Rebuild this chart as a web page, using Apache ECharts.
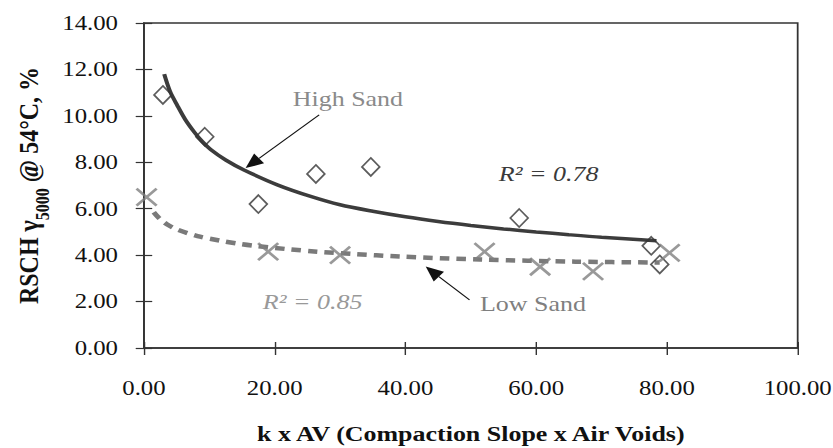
<!DOCTYPE html>
<html>
<head>
<meta charset="utf-8">
<script src="https://cdn.jsdelivr.net/npm/echarts@6/dist/echarts.min.js"></script>
<style>
html,body{margin:0;padding:0;background:#fff;overflow:hidden;}
#wrap{width:833px;height:448px;overflow:hidden;}
#chart{width:706px;height:448px;transform:scaleX(1.18);transform-origin:0 0;}
</style>
</head>
<body>
<div id="wrap"><div id="chart"></div></div>
<script>
// ---- data ----
const highSandX = [2.9, 9.3, 17.5, 26.3, 34.7, 57.4, 77.6, 78.9];
const highSandY = [10.9, 9.1, 6.2, 7.5, 7.8, 5.6, 4.4, 3.6];
const lowSandX = [0.4, 19.0, 30.0, 52.1, 60.6, 68.7, 80.4];
const lowSandY = [6.5, 4.15, 4.0, 4.15, 3.5, 3.3, 4.1];
const highTrendX = [3.1, 4.0, 5.1, 6.3, 7.7, 8.9, 10.2, 12.5, 15.3, 20.4, 25.5, 30.0, 35.0, 40.0, 45.0, 50.0, 55.0, 60.0, 65.0, 70.0, 78.4];
const highTrendY = [11.8, 11.05, 10.45, 9.85, 9.3, 8.9, 8.55, 8.1, 7.67, 7.03, 6.53, 6.17, 5.89, 5.65, 5.45, 5.28, 5.13, 5.0, 4.88, 4.77, 4.62];
const lowTrendX = [1.5, 2.3, 3.5, 5.1, 8.2, 11.7, 14.3, 16.8, 21.9, 26.5, 32.0, 39.1, 51.4, 66.0, 78.9];
const lowTrendY = [5.85, 5.6, 5.33, 5.1, 4.82, 4.62, 4.5, 4.41, 4.26, 4.15, 4.05, 3.94, 3.81, 3.72, 3.68];
const xTicks = {min: 0, max: 100, interval: 20};
const yTicks = {min: 0, max: 14, interval: 2};
const xTitle = 'k x AV (Compaction Slope x Air Voids)';
const highLabel = 'High Sand';
const lowLabel = 'Low Sand';
const highR2 = 'R² = 0.78';
const lowR2 = 'R² = 0.85';

const FONT = 'Liberation Serif, Times New Roman, serif';
const zip = (xs, ys) => xs.map((x, i) => [x, ys[i]]);

const chart = echarts.init(document.getElementById('chart'), null, {renderer: 'svg'});

const baseX = {
  type: 'value', min: xTicks.min, max: xTicks.max, interval: xTicks.interval,
  position: 'bottom', splitLine: {show: false}
};
const baseY = {
  type: 'value', min: yTicks.min, max: yTicks.max, interval: yTicks.interval,
  position: 'left', splitLine: {show: false}
};

chart.setOption({
  animation: false,
  backgroundColor: '#fff',
  grid: {
    left: 122, right: 30, top: 23, bottom: 100,
    show: true, borderColor: '#333', borderWidth: 1.5,
    backgroundColor: 'transparent',
    containLabel: false, outerBoundsMode: 'none'
  },
  xAxis: [
    Object.assign({}, baseX, {
      axisLine: {show: true, onZero: false, lineStyle: {color: '#333', width: 1.5}},
      axisTick: {show: true, inside: false, length: 7, lineStyle: {color: '#333', width: 1.2}},
      axisLabel: {
        color: '#111', fontFamily: FONT, fontSize: 21, margin: 30,
        formatter: v => v.toFixed(2)
      },
      name: xTitle, nameLocation: 'middle', nameGap: 75, nameMoveOverlap: false,
      nameTextStyle: {color: '#111', fontFamily: FONT, fontSize: 22, fontWeight: 'bold'}
    }),
    Object.assign({}, baseX, {
      axisLine: {show: false},
      axisTick: {show: true, inside: true, length: 6, lineStyle: {color: '#333', width: 1.2}},
      axisLabel: {show: false}
    })
  ],
  yAxis: [
    Object.assign({}, baseY, {
      axisLine: {show: true, onZero: false, lineStyle: {color: '#333', width: 1.5}},
      axisTick: {show: true, inside: false, length: 7, lineStyle: {color: '#333', width: 1.2}},
      axisLabel: {
        color: '#111', fontFamily: FONT, fontSize: 21, margin: 22,
        formatter: v => v.toFixed(2)
      },
      name: '{a|RSCH γ}{s|5000}{a| @ 54°C, %}',
      nameLocation: 'middle', nameGap: 78, nameRotate: 90, nameMoveOverlap: false,
      nameTextStyle: {
        color: '#111',
        rich: {
          a: {fontFamily: FONT, fontSize: 24, fontWeight: 'bold', color: '#111', lineHeight: 24, verticalAlign: 'top'},
          s: {fontFamily: FONT, fontSize: 16, fontWeight: 'bold', color: '#111', lineHeight: 32, verticalAlign: 'bottom'}
        }
      }
    }),
    Object.assign({}, baseY, {
      axisLine: {show: false},
      axisTick: {show: true, inside: true, length: 7, lineStyle: {color: '#333', width: 1.2}},
      axisLabel: {show: false}
    })
  ],
  series: [
    {
      name: 'High Sand trend', type: 'line', xAxisIndex: 0, yAxisIndex: 0,
      data: zip(highTrendX, highTrendY), showSymbol: false, smooth: 0.3,
      lineStyle: {color: '#3c3c3c', width: 3.5}, z: 2, silent: true
    },
    {
      name: 'Low Sand trend', type: 'line', xAxisIndex: 0, yAxisIndex: 0,
      data: zip(lowTrendX, lowTrendY), showSymbol: false, smooth: 0.3,
      lineStyle: {color: '#7a7a7a', width: 4.5, type: [8, 6]}, z: 2, silent: true
    },
    {
      name: 'High Sand', type: 'scatter', xAxisIndex: 0, yAxisIndex: 0,
      data: zip(highSandX, highSandY), symbol: 'diamond', symbolSize: [15, 18],
      itemStyle: {color: 'rgba(0,0,0,0)', borderColor: '#333', borderWidth: 1.6},
      z: 4, silent: true
    },
    {
      name: 'Low Sand', type: 'scatter', xAxisIndex: 0, yAxisIndex: 0,
      data: zip(lowSandX, lowSandY), symbol: 'path://M0,0L10,10M10,0L0,10', symbolSize: [17, 17],
      itemStyle: {color: 'rgba(0,0,0,0)', borderColor: '#7f7f7f', borderWidth: 2.5},
      z: 4, silent: true
    }
  ]
});

// ---- annotations, anchored in data coordinates ----
function px(x, y) { return chart.convertToPixel({seriesIndex: 0}, [x, y]); }
function arrow(from, to, color) {
  const a = px(from[0], from[1]), b = px(to[0], to[1]);
  const dx = b[0] - a[0], dy = b[1] - a[1], L = Math.hypot(dx, dy);
  const ux = dx / L, uy = dy / L, hl = 15, hw = 6.5;
  const base = [b[0] - ux * hl, b[1] - uy * hl];
  return [
    {type: 'line', silent: true, shape: {x1: a[0], y1: a[1], x2: base[0], y2: base[1]}, style: {stroke: color, lineWidth: 1.1}},
    {type: 'polygon', silent: true, shape: {points: [b, [base[0] - uy * hw, base[1] + ux * hw], [base[0] + uy * hw, base[1] - ux * hw]]}, style: {fill: color}}
  ];
}
function label(text, at, color, italic) {
  const p = px(at[0], at[1]);
  return {
    type: 'text', silent: true, x: p[0], y: p[1],
    style: {
      text: text, fill: color, align: 'center', verticalAlign: 'middle',
      fontFamily: FONT, fontSize: 22, fontStyle: italic ? 'italic' : 'normal'
    }
  };
}
chart.setOption({
  graphic: [].concat(
    arrow([26.8, 10.04], [15.55, 7.75], '#111'),
    arrow([49.8, 2.07], [43.1, 3.51], '#111'),
    [
      label(highLabel, [31.2, 10.73], '#8a8a8a', false),
      label(lowLabel, [59.5, 1.9], '#7f7f7f', false),
      label(highR2, [61.9, 7.5], '#3a3a3a', true),
      label(lowR2, [25.8, 1.98], '#999999', true)
    ]
  )
});
</script>
</body>
</html>
